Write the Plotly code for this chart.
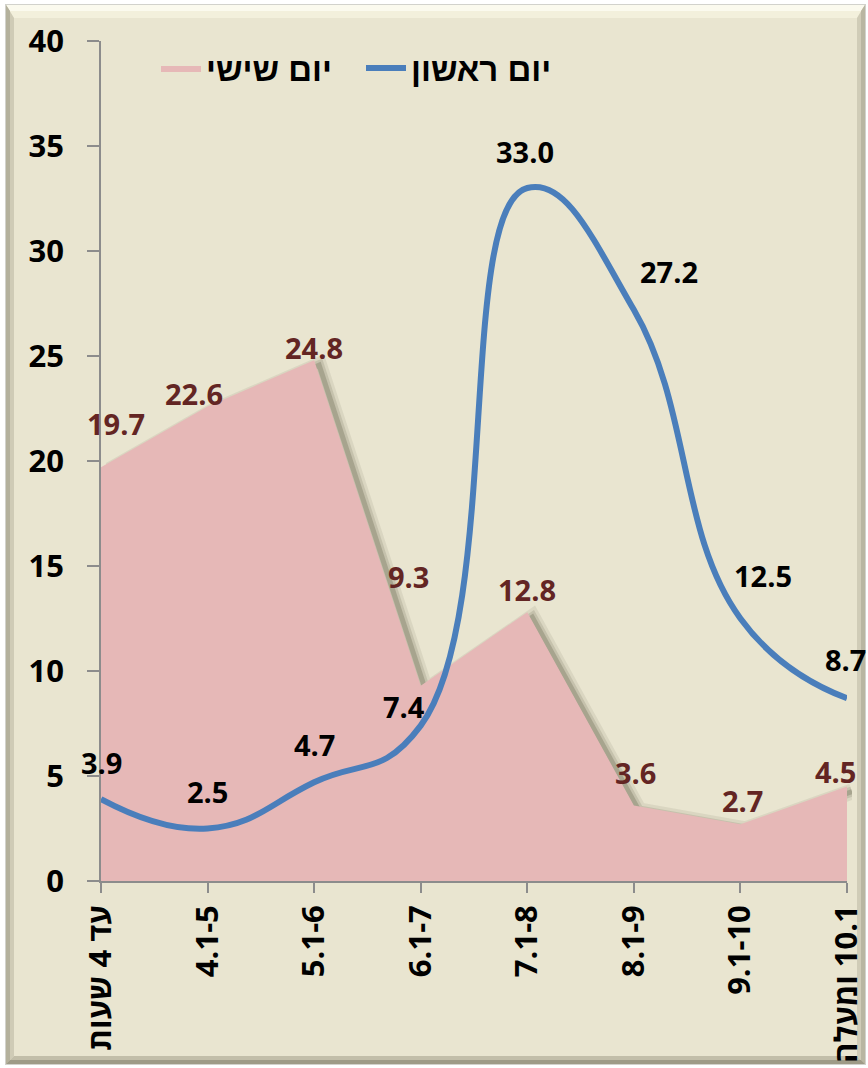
import plotly.graph_objects as go

# ---------------- data ----------------
categories = ["עד 4 שעות", "4.1-5", "5.1-6", "6.1-7", "7.1-8", "8.1-9", "9.1-10", "\u200F10.1 ומעלה"]
friday_name = "יום שישי"
sunday_name = "יום ראשון"
friday = [19.7, 22.6, 24.8, 9.3, 12.8, 3.6, 2.7, 4.5]
sunday = [3.9, 2.5, 4.7, 7.4, 33.0, 27.2, 12.5, 8.7]
y_ticks = [0, 5, 10, 15, 20, 25, 30, 35, 40]

# label pixel offsets (styling only)
friday_shift = [(15, 44), (-14, 13), (0, 13), (-12, 109), (0, 23), (2, 33), (2, 24), (-12, 15)]
sunday_shift = [(0, 37), (0, 37), (0, 38), (-17, 19), (-2, 37), (35, 38), (23, 43), (-2, 39)]

# ---------------- geometry ----------------
W, H = 868, 1068
ML, MR, MT, MB = 101, 16, 41, 182
PW = W - ML - MR
PH = H - MT - MB
SH = 5                    # shadow offset px
dx = SH / PW
dy = SH / PH

def px(xp):
    return (xp - ML) / PW

def py(yp):
    return (H - MB - yp) / PH

FONT = "'Open Sans', 'Liberation Sans', 'DejaVu Sans', sans-serif"
HFONT = "'Liberation Sans', 'DejaVu Sans', sans-serif"
PINK = "#E6B8B7"
BLUE = "#4A7EBB"
DARKRED = "#632523"
AXIS = "#8C8C8C"

fig = go.Figure()

# soft shadow of area edge (on offset axes, drawn first)
for w, a in [(16, 0.10), (10, 0.16), (5, 0.28)]:
    fig.add_trace(go.Scatter(x=categories, y=friday, xaxis="x", yaxis="y", mode="lines",
                             line=dict(color=f"rgba(90,90,65,{a})", width=w),
                             showlegend=False, hoverinfo="skip"))

# main area
fig.add_trace(go.Scatter(x=categories, y=friday, xaxis="x2", yaxis="y2", mode="lines",
                         fill="tozeroy", fillcolor=PINK, line=dict(width=0, color=PINK),
                         name=friday_name))
# main line
fig.add_trace(go.Scatter(x=categories, y=sunday, xaxis="x2", yaxis="y2", mode="lines",
                         line=dict(color=BLUE, width=6, shape="spline", smoothing=1.3),
                         name=sunday_name))

annotations = []
for c, v, (sx, sy) in zip(categories, friday, friday_shift):
    annotations.append(dict(x=c, y=v, xref="x2", yref="y2", text=f"{v:.1f}", showarrow=False,
                            xshift=sx, yshift=sy,
                            font=dict(family=FONT, size=29, color=DARKRED, weight="bold")))
for c, v, (sx, sy) in zip(categories, sunday, sunday_shift):
    annotations.append(dict(x=c, y=v, xref="x2", yref="y2", text=f"{v:.1f}", showarrow=False,
                            xshift=sx, yshift=sy,
                            font=dict(family=FONT, size=29, color="black", weight="bold")))

# frame / bevel shapes
def poly(pts, color):
    path = "M " + " L ".join(f"{px(a):.5f},{py(b):.5f}" for a, b in pts) + " Z"
    return dict(type="path", xref="paper", yref="paper", path=path,
                fillcolor=color, line=dict(width=0), layer="below")

BG = "#E9E5D0"
shapes = [
    poly([(5, 4), (866, 4), (866, 1065), (5, 1065)], "#D2D2CC"),
    poly([(6, 5), (865, 5), (865, 1064), (6, 1064)], BG),
    # top bevel
    poly([(6, 5), (865, 5), (857, 18), (14, 18)], "#F3F0DC"),
    poly([(6, 5), (865, 5), (861, 11), (10, 11)], "#FBFAEE"),
    # left bevel
    poly([(6, 5), (14, 18), (14, 1056), (6, 1064)], "#CFCBB6"),
    poly([(6, 5), (10, 11), (10, 1060), (6, 1064)], "#B4B19C"),
    # right bevel
    poly([(865, 5), (865, 1064), (857, 1056), (857, 18)], "#D0CCB7"),
    poly([(865, 5), (865, 1064), (861, 1060), (861, 11)], "#B9B6A1"),
    # bottom bevel
    poly([(6, 1064), (865, 1064), (857, 1056), (14, 1056)], "#C2BEA9"),
    poly([(6, 1064), (865, 1064), (861, 1060), (10, 1060)], "#9E9B87"),
]

fig.update_layout(
    width=W, height=H, autosize=False,
    margin=dict(l=ML, r=MR, t=MT, b=MB, pad=0, autoexpand=False),
    paper_bgcolor="white",
    plot_bgcolor="rgba(0,0,0,0)",
    font=dict(family=FONT, size=30, color="black"),
    showlegend=True,
    legend=dict(orientation="h", x=px(156), y=py(40), xanchor="left", yanchor="top",
                bgcolor="rgba(0,0,0,0)", traceorder="normal",
                font=dict(family=HFONT, size=33, color="black", weight="bold"),
                itemwidth=40, tracegroupgap=0, entrywidth=150),
    xaxis=dict(domain=[dx, 1], anchor="y", type="category", range=[0, 7], visible=False,
               automargin=False),
    yaxis=dict(domain=[0, 1 - dy], anchor="x", range=[0, 40], visible=False,
               automargin=False),
    xaxis2=dict(domain=[0, 1 - dx], anchor="y2", type="category", range=[0, 7],
                showline=True, linecolor=AXIS, linewidth=1.5,
                ticks="outside", ticklen=10, tickcolor=AXIS, tickwidth=1.5,
                tickangle=-90, showgrid=False, zeroline=False, automargin=False,
                tickfont=dict(family=FONT, size=31, color="black", weight="bold")),
    yaxis2=dict(domain=[dy, 1], anchor="x2", range=[0, 40], tickvals=y_ticks,
                showline=True, linecolor=AXIS, linewidth=1.5,
                ticks="outside", ticklen=12, tickcolor=AXIS, tickwidth=1.5,
                showgrid=False, zeroline=False, ticklabelstandoff=17, automargin=False,
                tickfont=dict(family=FONT, size=31, color="black", weight="bold")),
    annotations=annotations,
    shapes=shapes,
)

fig.write_html("out.html", config={"displayModeBar": False},
               post_script="document.body.style.margin='0';document.body.style.overflow='hidden';")
